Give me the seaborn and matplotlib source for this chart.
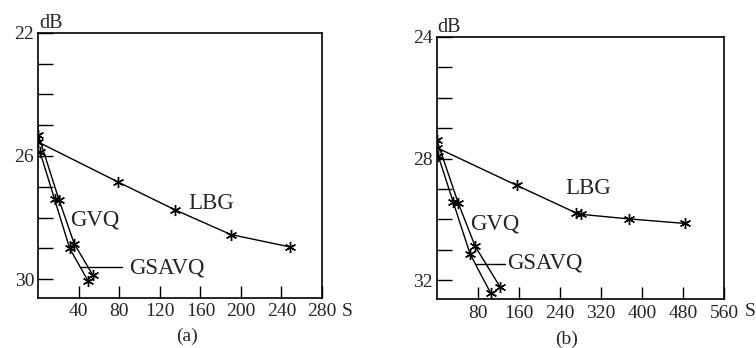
import matplotlib
matplotlib.use("Agg")
import matplotlib.pyplot as plt
import seaborn as sns
import pandas as pd
from matplotlib.ticker import FixedLocator

sns.set_theme(style="white")
plt.rcParams['font.family'] = ['Liberation Serif', 'DejaVu Serif']

# ---- panel (a) data ----
a_lbg_s = [0, 79, 135, 190, 248]
a_lbg_db = [25.55, 26.85, 27.75, 28.55, 28.95]
a_gvq_s = [1.6, 16, 31, 49]
a_gvq_db = [25.86, 27.4, 29.0, 30.05]
a_gsavq_s = [0, 20.5, 35.5, 53.5]
a_gsavq_db = [25.32, 27.43, 28.85, 29.85]
a_xticks = [40, 80, 120, 160, 200, 240, 280]
a_yticks = [22, 26, 30]

# ---- panel (b) data ----
b_lbg_s = [1, 156, 271, 281, 374, 484]
b_lbg_db = [27.65, 28.88, 29.78, 29.83, 29.98, 30.13]
b_gvq_s = [3, 32, 65, 105]
b_gvq_db = [27.91, 29.42, 31.13, 32.41]
b_gsavq_s = [0, 42, 75, 123]
b_gsavq_db = [27.38, 29.46, 30.88, 32.2]
b_xticks = [80, 160, 240, 320, 400, 480, 560]
b_yticks = [24, 28, 32]

fig = plt.figure(figsize=(7.56, 3.48), dpi=100)
W, H = 756, 348

def axes_px(l, t, r, b):
    return fig.add_axes([l / W, 1 - b / H, (r - l) / W, (b - t) / H])

ax_a = axes_px(38.3, 32.7, 322.0, 297.7)
ax_b = axes_px(436.7, 36.7, 724.0, 299.3)

mk = dict(marker=(6, 2, 0), markersize=8, markeredgewidth=1.0,
          markeredgecolor='black', color='black', linewidth=1.0)

def draw(ax, series):
    for s, d in series:
        df = pd.DataFrame({'S': s, 'dB': d})
        sns.lineplot(data=df, x='S', y='dB', ax=ax, sort=False,
                     estimator=None, **mk)

draw(ax_a, [(a_lbg_s, a_lbg_db), (a_gvq_s, a_gvq_db), (a_gsavq_s, a_gsavq_db)])
draw(ax_b, [(b_lbg_s, b_lbg_db), (b_gvq_s, b_gvq_db), (b_gsavq_s, b_gsavq_db)])

LS = 14

def style(ax, xmax, ylo, yhi, xticks, yticks):
    ax.set_xlim(0, xmax)
    ax.set_ylim(yhi, ylo)
    ax.set_xlabel('')
    ax.set_ylabel('')
    ax.xaxis.set_major_locator(FixedLocator(xticks))
    ax.set_xticklabels([str(v) for v in xticks])
    ax.yaxis.set_major_locator(FixedLocator(yticks))
    ax.set_yticklabels([str(v) for v in yticks])
    minor = [v for v in range(int(round(ylo)), int(yhi) + 1) if v not in yticks]
    ax.yaxis.set_minor_locator(FixedLocator(minor))
    ax.tick_params(axis='x', which='major', direction='in', length=9, width=1,
                   color='black', labelsize=LS, pad=4, bottom=True)
    ax.tick_params(axis='y', which='both', direction='in', length=11, width=1,
                   color='black', labelsize=LS, pad=3, left=True)
    for sp in ax.spines.values():
        sp.set_color('black')
        sp.set_linewidth(1.2)
        sp.set_visible(True)
    ax.grid(False)
    ax.set_facecolor('white')

style(ax_a, 280, 22, 30.6, a_xticks, a_yticks)
style(ax_b, 560, 24, 32.62, b_xticks, b_yticks)

tfs = 16.5
# panel (a) annotations
ax_a.text(171, 27.53, 'LBG', fontsize=tfs, ha='center', va='center')
ax_a.text(56, 28.08, 'GVQ', fontsize=tfs, ha='center', va='center')
ax_a.text(127, 29.63, 'GSAVQ', fontsize=tfs, ha='center', va='center')
ax_a.plot([42.5, 83], [29.6, 29.6], color='black', lw=1)
ax_a.text(0.002, 1.0, 'dB', transform=ax_a.transAxes, fontsize=14.5,
          ha='left', va='bottom')

# panel (b) annotations
ax_b.text(296, 28.99, 'LBG', fontsize=tfs, ha='center', va='center')
ax_b.text(114, 30.16, 'GVQ', fontsize=tfs, ha='center', va='center')
ax_b.text(211, 31.42, 'GSAVQ', fontsize=tfs, ha='center', va='center')
ax_b.plot([75, 133], [31.47, 31.47], color='black', lw=1)
ax_b.text(0.002, 1.0, 'dB', transform=ax_b.transAxes, fontsize=14.5,
          ha='left', va='bottom')

# axis unit "S" and captions
fig.text(347 / W, 1 - 311 / H, 'S', fontsize=LS, ha='center', va='center')
fig.text(750 / W, 1 - 312 / H, 'S', fontsize=LS, ha='center', va='center')
fig.text(187 / W, 1 - 336 / H, '(a)', fontsize=14, ha='center', va='center')
fig.text(567 / W, 1 - 339 / H, '(b)', fontsize=14, ha='center', va='center')

fig.savefig('out.png', dpi=100, facecolor='white')
